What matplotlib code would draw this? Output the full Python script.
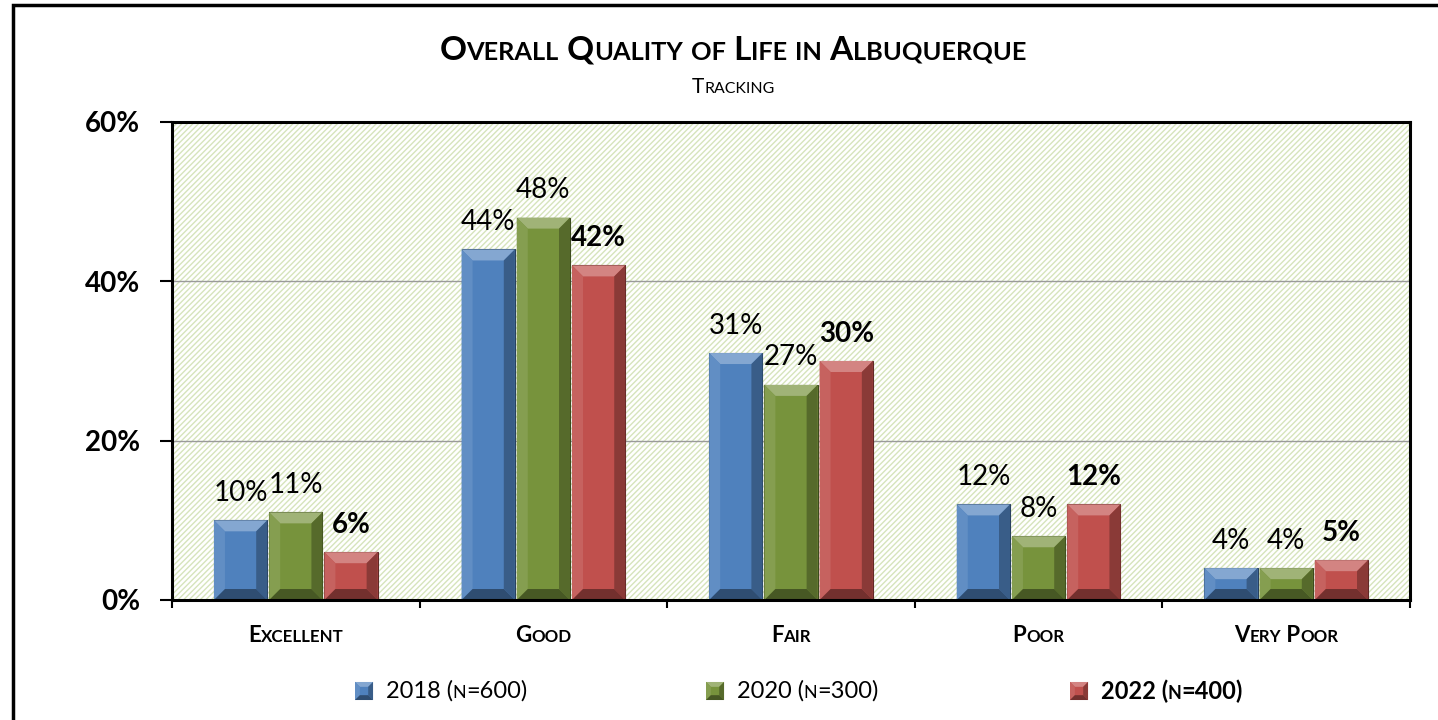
import matplotlib
matplotlib.use("Agg")
import matplotlib.pyplot as plt
import matplotlib.colors as mcolors
from matplotlib.offsetbox import TextArea, HPacker, AnnotationBbox, DrawingArea
from matplotlib.patches import Rectangle, Polygon
from matplotlib.ticker import FixedLocator
import numpy as np

plt.rcParams['font.family'] = ['Lato', 'DejaVu Sans']
plt.rcParams['hatch.linewidth'] = 1.0

# データ
categories = ["Excellent", "Good", "Fair", "Poor", "Very Poor"]
series_labels = ["2018 (n=600)", "2020 (n=300)", "2022 (n=400)"]
values_2018 = [10, 44, 31, 12, 4]
values_2020 = [11, 48, 27, 8, 4]
values_2022 = [6, 42, 30, 12, 5]
y_ticks = [0, 20, 40, 60]
title = "Overall Quality of Life in Albuquerque"
subtitle = "Tracking"

series_values = [values_2018, values_2020, values_2022]
colors = ["#4F81BD", "#77933C", "#C0504D"]
bold_series = [False, False, True]


def mix(c, other, t):
    c = np.array(mcolors.to_rgb(c))
    o = np.array(mcolors.to_rgb(other))
    return tuple(c * (1 - t) + o * t)


def smallcaps(text, size, weight="normal", ratio=0.76):
    """小文字をスモールキャップとして描画する HPacker を返す"""
    runs = []
    for ch in text:
        small = ch.islower()
        if runs and runs[-1][1] == small:
            runs[-1][0] += ch
        else:
            runs.append([ch, small])
    areas = []
    for s, small in runs:
        fs = size * ratio if small else size
        areas.append(TextArea(s.upper(), textprops=dict(
            fontsize=fs, fontweight=weight, color="black")))
    return HPacker(children=areas, pad=0, sep=0, align="baseline")


def bevel_polys(x0, y0, w, h, bx, by, color):
    """Excel風のベベル効果用ポリゴン"""
    by = min(by, h / 2.0)
    x1, y1 = x0 + w, y0 + h
    return [
        ([(x0, y1), (x1, y1), (x1 - bx, y1 - by), (x0 + bx, y1 - by)], mix(color, "white", 0.30)),
        ([(x0, y0), (x0, y1), (x0 + bx, y1 - by), (x0 + bx, y0 + by)], mix(color, "white", 0.10)),
        ([(x1, y0), (x1, y1), (x1 - bx, y1 - by), (x1 - bx, y0 + by)], mix(color, "black", 0.28)),
        ([(x0, y0), (x1, y0), (x1 - bx, y0 + by), (x0 + bx, y0 + by)], mix(color, "black", 0.40)),
    ]


fig = plt.figure(figsize=(14.38, 7.2), dpi=100)
fig.patch.set_facecolor("white")
ax = fig.add_axes([172 / 1438, 1 - 600 / 720, (1410 - 172) / 1438, (600 - 122) / 720])

x = np.arange(len(categories))
width = 0.215
step = 0.223
ax.set_xlim(-0.5, len(categories) - 0.5)
ax.set_ylim(0, 60)

# 背景のハッチング
ax.set_facecolor("white")
ax.add_patch(Rectangle((0, 0), 1, 1, transform=ax.transAxes, facecolor="white",
                       edgecolor="#d6e4bc", hatch="//////", lw=0, zorder=0))
ax.set_axisbelow(True)
ax.yaxis.grid(True, color="#9a9a9a", lw=1.0, zorder=0.5)

# ピクセル→データ単位の換算
p0 = ax.transData.transform((0, 0))
p1 = ax.transData.transform((1, 1))
bx = 11.0 / (p1[0] - p0[0])
by = 11.0 / (p1[1] - p0[1])

for i, (vals, color, bold) in enumerate(zip(series_values, colors, bold_series)):
    offs = (i - 1) * step
    bars = ax.bar(x + offs, vals, width, color=color,
                  edgecolor=mix(color, "black", 0.5), lw=0.8, zorder=2)
    for bar, v in zip(bars, vals):
        for pts, c in bevel_polys(bar.get_x(), 0, bar.get_width(), bar.get_height(), bx, by, color):
            ax.add_patch(Polygon(pts, closed=True, facecolor=c, lw=0, zorder=2.5))
        ax.annotate(f"{v}%", (bar.get_x() + bar.get_width() / 2, v),
                    xytext=(0, 14), textcoords="offset points",
                    ha="center", va="baseline", fontsize=20,
                    fontweight="bold" if bold else "normal", zorder=4)

# 軸
for side in ["left", "right", "top", "bottom"]:
    ax.spines[side].set_linewidth(2.2)
    ax.spines[side].set_color("black")
    ax.spines[side].set_zorder(5)

ax.set_yticks(y_ticks)
ax.set_yticklabels([f"{t}%" for t in y_ticks], fontsize=20, fontweight="bold")
ax.tick_params(axis="y", length=9, width=1.5, pad=14, direction="out")
ax.set_xticks(x)
ax.set_xticklabels([""] * len(categories))
ax.tick_params(axis="x", which="major", length=0)
ax.xaxis.set_minor_locator(FixedLocator(np.arange(-0.5, len(categories), 1.0)))
ax.tick_params(axis="x", which="minor", length=6, width=1.5, direction="out")

# カテゴリラベル（スモールキャップ）
for xi, cat in zip(x, categories):
    box = smallcaps(cat, 16, weight="bold")
    ab = AnnotationBbox(box, (xi, 1 - 635 / 720), xycoords=("data", "figure fraction"),
                        frameon=False, box_alignment=(0.5, 0.5), pad=0)
    ax.add_artist(ab)

# タイトル
fig.add_artist(AnnotationBbox(smallcaps(title, 24, weight="bold"), (733 / 1438, 1 - 50 / 720),
                              xycoords="figure fraction", frameon=False,
                              box_alignment=(0.5, 0.5), pad=0))
fig.add_artist(AnnotationBbox(smallcaps(subtitle, 15), (733 / 1438, 1 - 87 / 720),
                              xycoords="figure fraction", frameon=False,
                              box_alignment=(0.5, 0.5), pad=0))

# 凡例（手動）
legend_x = [355, 706, 1070]
for lx, label, color, bold in zip(legend_x, series_labels, colors, bold_series):
    da = DrawingArea(13, 13, 0, 0)
    da.add_artist(Rectangle((0, 0), 13, 13, facecolor=color, lw=0))
    for pts, c in bevel_polys(0, 0, 13, 13, 3.5, 3.5, color):
        da.add_artist(Polygon(pts, closed=True, facecolor=c, lw=0))
    txt = smallcaps(label, 17, weight="bold" if bold else "normal")
    item = HPacker(children=[da, txt], pad=0, sep=9, align="center")
    fig.add_artist(AnnotationBbox(item, (lx / 1438, 1 - 691 / 720), xycoords="figure fraction",
                                  frameon=False, box_alignment=(0, 0.5), pad=0))

# 外枠
fig.add_artist(Rectangle((13 / 1438, -0.5), 2.0, 1 - 5 / 720 + 0.5, transform=fig.transFigure,
                         fill=False, lw=2.5, edgecolor="black"))

plt.savefig("out.png", dpi=100)
